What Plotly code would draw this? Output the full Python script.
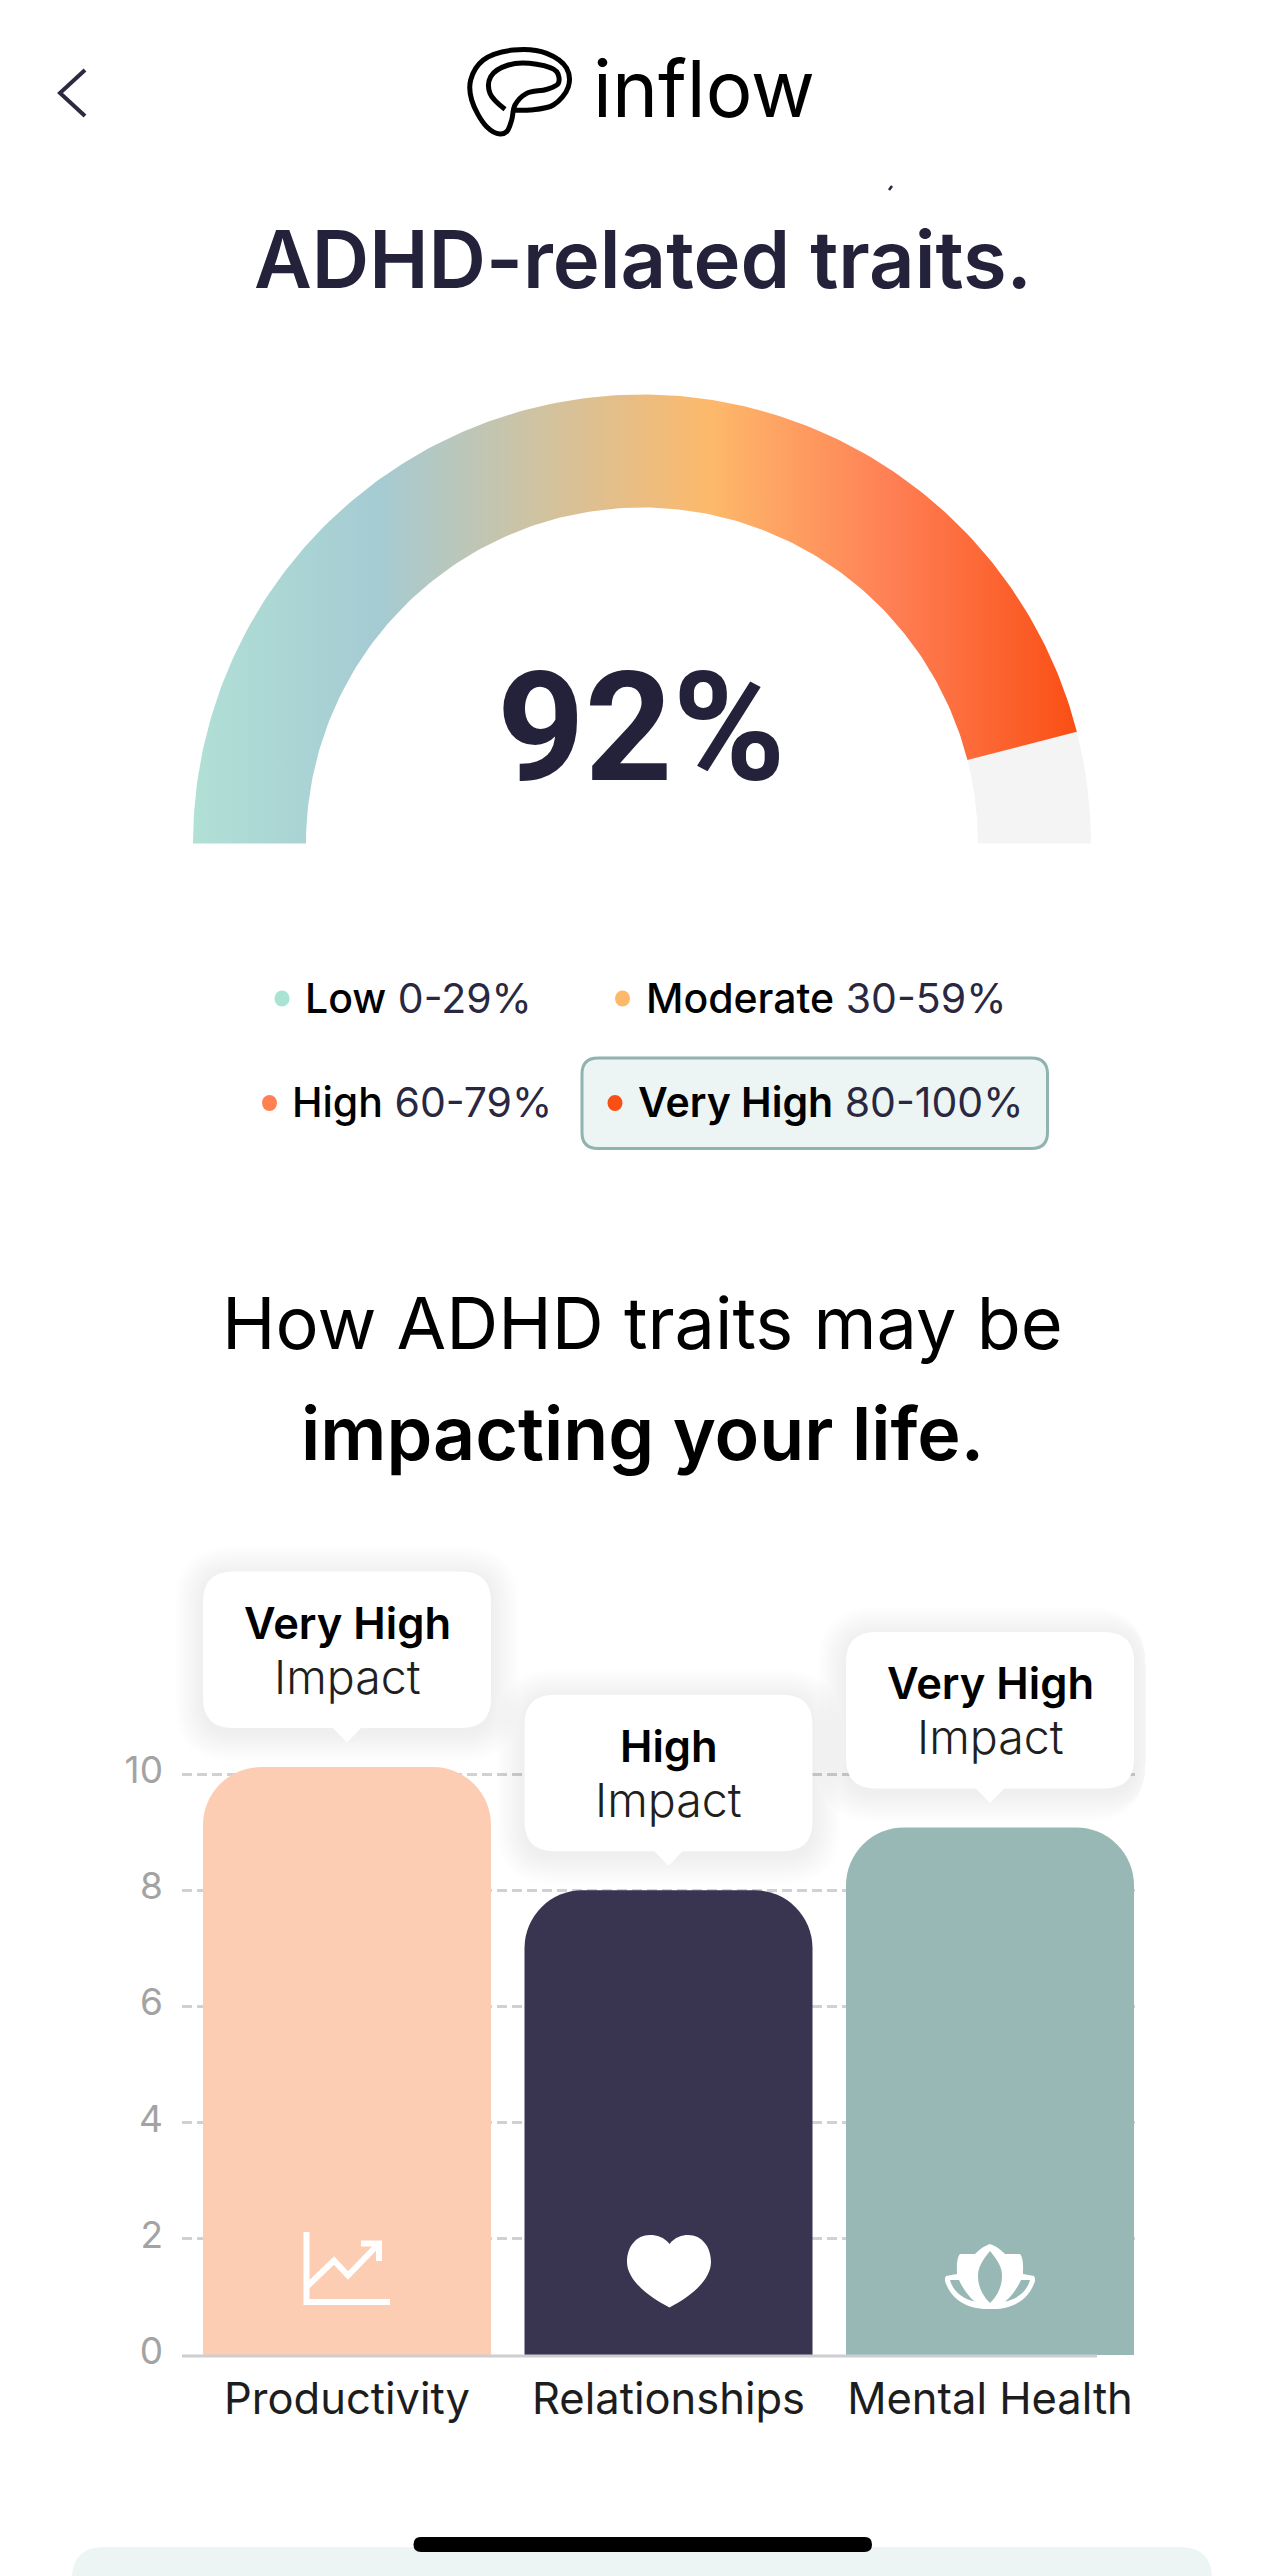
import numpy as np
import plotly.graph_objects as go

W = 1284
H = 2577

# Dados
gauge_value = 92
gauge_max = 100
gauge_label = "92%"
categories = ["Productivity", "Relationships", "Mental Health"]
impact_values = [10.12, 8.0, 9.08]
impact_levels = ["Very High", "High", "Very High"]
bar_colors = ["#fccdb3", "#393450", "#97b8b5"]
tick_values = [0, 2, 4, 6, 8, 10]
legend_names = ["Low", "Moderate", "High", "Very High"]
legend_ranges = ["0-29%", "30-59%", "60-79%", "80-100%"]
legend_colors = ["#a8e3d4", "#fdb96b", "#ff8050", "#fa4f14"]

# Onde o eixo fica na tela, em pixels
Y_ZERO = 2356
PX_PER_UNIT = 58.1
BAR_CENTER = 347
BAR_STEP = 321.5
Y_TOP = 10.4
LABEL_LIFT = 4 / PX_PER_UNIT  # os números do eixo ficam um pouco acima da grade
INK = "#24223a"
FONT = "Inter"

GAUGE_CX, GAUGE_CY, R_OUT, R_IN = 642, 843.5, 449, 336


def text(x, y, s, size, color="#000000", weight=400, anchor="center", family=FONT):
    return dict(x=x, y=y, xref="x2", yref="y2", text=s, showarrow=False, xanchor=anchor, yanchor="middle",
                font=dict(family=family, size=size, color=color, weight=weight))


def rounded(x0, y0, x1, y1, r):
    return (f"M{x0+r},{y0} L{x1-r},{y0} Q{x1},{y0} {x1},{y0+r} L{x1},{y1-r} Q{x1},{y1} {x1-r},{y1} "
            f"L{x0+r},{y1} Q{x0},{y1} {x0},{y1-r} L{x0},{y0+r} Q{x0},{y0} {x0+r},{y0} Z")


def shape(path, fill=None, line=None, width=0, opacity=1):
    return dict(type="path", path=path, xref="x2", yref="y2", layer="above", opacity=opacity,
                fillcolor=fill or "rgba(0,0,0,0)", line=dict(color=line or "rgba(0,0,0,0)", width=width))


def arc(start, end):
    # setor do anel entre dois valores da escala do medidor
    a = np.pi * (1 - np.linspace(start, end, 200) / gauge_max)
    xs = np.concatenate([GAUGE_CX + R_OUT * np.cos(a), GAUGE_CX + R_IN * np.cos(a[::-1])])
    ys = np.concatenate([GAUGE_CY - R_OUT * np.sin(a), GAUGE_CY - R_IN * np.sin(a[::-1])])
    return xs, ys


fig = go.Figure()

# Barras
fig.add_bar(x=list(range(3)), y=impact_values, marker=dict(color=bar_colors, line=dict(width=0)),
            width=288 / BAR_STEP)

# Traço invisível só para o eixo dos números existir
fig.add_scatter(x=[0], y=[0], yaxis="y3", mode="markers", marker=dict(opacity=0))

# Medidor
xr, yr = arc(gauge_value, gauge_max)
fig.add_scatter(x=xr, y=yr, xaxis="x2", yaxis="y2", mode="lines", fill="toself", fillcolor="#f4f4f4",
                line=dict(width=0))
xa, ya = arc(0, gauge_value)
fig.add_scatter(x=xa, y=ya, xaxis="x2", yaxis="y2", mode="lines", fill="toself", line=dict(width=0),
                fillgradient=dict(type="horizontal", colorscale=[[0, "#b1e0d6"], [0.21, "#a5cbd3"], [0.585, "#fdb96b"],
                                                                 [0.79, "#ff7f55"], [1, "#fa4f14"]]))

# Logo
logo = [(165, 238), (120, 190), (122, 140), (175, 105), (260, 103), (320, 125), (325, 160), (290, 178), (230, 190),
        (195, 225), (185, 270), (170, 305), (150, 312), (110, 290), (65, 210), (62, 150), (100, 90), (190, 60),
        (290, 70), (350, 115), (355, 170), (310, 225), (240, 240), (195, 240)]
fig.add_scatter(x=[450 + p[0] / 3 for p in logo], y=[30 + p[1] / 3 for p in logo], xaxis="x2", yaxis="y2",
                mode="lines", line=dict(color="#000000", width=5, shape="spline", smoothing=1))

shapes = []

# Seta de voltar, traço perdido e cartão do rodapé
shapes.append(shape("M85,70 L60,93 L85,116", line="#2b2a40", width=4))
shapes.append(shape("M889,190 L892,186", line=INK, width=2.5))
shapes.append(shape(rounded(72, 2548, 1212, 2640, 32), fill="#edf5f4"))
shapes.append(shape(rounded(413.5, 2538, 872, 2553, 7.5), fill="#000000"))

# Linha do eixo
shapes.append(shape("M182,2357 L1097,2357", line="#cdcdd2", width=3))
shapes[-1]["layer"] = "below"

# Caixa da faixa selecionada
shapes.append(shape(rounded(582, 1058, 1047.5, 1148.5, 16), fill="#edf5f4", line="#8fb3ae", width=3))

# Balões acima das barras
centers = [BAR_CENTER + i * BAR_STEP for i in range(3)]
for c, v in zip(centers, impact_values):
    bottom = Y_ZERO - v * PX_PER_UNIT - 39
    top = bottom - 156.5
    x0, x1 = c - 144, c + 144
    for k in range(16, 0, -1):
        g = k * 1.8
        shapes.append(shape(rounded(x0 - g, top - g + 3, min(x1 + g, 1146), bottom + g + 5, 30 + g), fill="#000000",
                            opacity=0.005))
    shapes.append(shape(rounded(x0, top, x1, bottom, 30), fill="#ffffff"))
    shapes.append(shape(f"M{c-15},{bottom-1} L{c},{bottom+14.5} L{c+15},{bottom-1} Z", fill="#ffffff"))

# Ícones
white = "#ffffff"
shapes.append(shape("M306.5,2233 L306.5,2303 L390,2303", line=white, width=6))
shapes.append(shape("M306.5,2288 L334,2261.5 L348,2276.5 L378.5,2245", line=white, width=6))
shapes.append(shape("M361,2244.5 L379,2244.5 L379,2262", line=white, width=6))
shapes.append(shape("M669.5,2245 C675,2238 682,2236 688,2236 C702,2236 711,2248 711,2263 C711,2282 688,2299 669.5,2308.5 "
                    "C651,2299 627,2282 627,2263 C627,2248 636,2236 650,2236 C657,2236 664,2238 669.5,2245 Z", fill=white))

shapes.append(shape("M990,2245 C997,2247 1003,2253 1005,2255 L1020,2255 C1024,2260 1023,2270 1023,2275 L1034,2277 "
                    "C1036,2280 1035,2283 1033,2287 C1027,2301 1012,2310 993,2310 L987,2310 C968,2310 953,2301 947,2287 "
                    "C945,2283 944,2280 946,2277 L957,2275 C957,2270 956,2260 960,2255 L975,2255 C977,2253 983,2247 990,2245 Z",
                    fill=white))
teal = bar_colors[2]
shapes.append(shape("M990,2252 C998,2262 1002,2268 1002,2277 C1002,2289 996,2298 990,2304 C984,2298 978,2289 978,2277 "
                    "C978,2268 982,2262 990,2252 Z", fill=teal))
shapes.append(shape("M950,2281 C955,2281 959,2281 959,2281 C964,2292 971,2300 975,2302.5 C962,2300 953,2292 950,2281 Z", fill=teal))
shapes.append(shape("M1030,2281 C1025,2281 1021,2281 1021,2281 C1016,2292 1009,2300 1005,2302.5 C1018,2300 1027,2292 1030,2281 Z", fill=teal))

# Textos
notes = [
    text(703.5, 88, "inflow", 78, weight=400),
    text(643, 259, "ADHD-related traits.", 79.5, INK, 600),
    text(641, 727, gauge_label, 153, INK, 700, family="Roboto"),
    text(642.5, 1323, "How ADHD traits may be", 72),
    text(642, 1434, "impacting your life.", 73.5, weight=600),
]

# Legenda
legend_dots = [(282, 998.5), (622.5, 998.5), (269.5, 1103), (615, 1103)]
legend_left = [303, 643.5, 289.5, 635.5]
for i in range(4):
    dx, dy = legend_dots[i]
    shapes.append(dict(type="circle", xref="x2", yref="y2", layer="above", x0=dx - 7.5, x1=dx + 7.5, y0=dy - 8, y1=dy + 8,
                       fillcolor=legend_colors[i], line=dict(width=0)))
    w = 600 if i == 3 else 500
    label = f'<span style="font-weight:{w};color:#000000">{legend_names[i]}</span> {legend_ranges[i]}'
    notes.append(text(legend_left[i], dy - 1, label, 41, "#2a2840", 400, "left"))

# Textos dos balões
for c, v, level in zip(centers, impact_values, impact_levels):
    bottom = Y_ZERO - v * PX_PER_UNIT - 39
    notes.append(text(c, bottom - 105, level, 43.5, "#000000", 600))
    notes.append(text(c, bottom - 51, "Impact", 46.5, "#1f1f1f", 300))

fig.update_layout(
    width=W, height=H, margin=dict(l=0, r=0, t=0, b=0, autoexpand=False), paper_bgcolor="white", plot_bgcolor="rgba(0,0,0,0)",
    showlegend=False, hovermode=False, barcornerradius=58, shapes=shapes, annotations=notes,
    xaxis=dict(domain=[182 / W, 1134.5 / W], range=[(182 - BAR_CENTER) / BAR_STEP, (1134.5 - BAR_CENTER) / BAR_STEP],
               tickvals=list(range(3)), ticktext=categories, tickangle=0, showgrid=False, zeroline=False, showline=False,
               automargin=False, ticks="", ticklabelstandoff=14, tickfont=dict(family=FONT, size=43.5, color="#1d1d1d")),
    yaxis=dict(domain=[(H - Y_ZERO) / H, (H - Y_ZERO + Y_TOP * PX_PER_UNIT) / H], range=[0, Y_TOP], tickvals=tick_values,
               automargin=False, zeroline=False, showline=False, ticks="", showticklabels=False, griddash="10px,5px",
               gridwidth=3, gridcolor="#d0d0d6"),
    yaxis3=dict(overlaying="y", range=[-LABEL_LIFT, Y_TOP - LABEL_LIFT], tickvals=tick_values, automargin=False,
                showgrid=False, zeroline=False, showline=False, ticks="", ticklabelstandoff=18,
                tickfont=dict(family=FONT, size=37, color="#a3a3a3", weight=400)),
    xaxis2=dict(domain=[0, 1], range=[0, W], visible=False, anchor="y2", automargin=False),
    yaxis2=dict(domain=[0, 1], range=[H, 0], visible=False, anchor="x2", automargin=False),
)

fig.write_html("out.html", config={"displayModeBar": False}, post_script="document.body.style.margin='0';")
